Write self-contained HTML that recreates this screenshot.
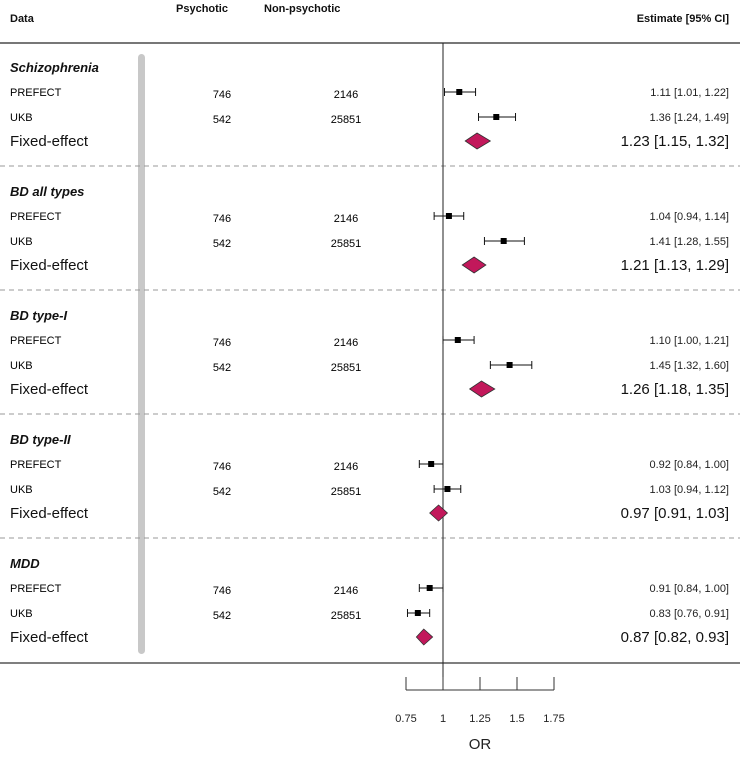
<!DOCTYPE html><html><head><style>body{margin:0;background:#fff}</style></head><body>
<svg width="740" height="752" xmlns="http://www.w3.org/2000/svg" font-family="Liberation Sans, Arial, sans-serif">
<g font-size="11" font-weight="bold" fill="#111">
<text x="10" y="22">Data</text><text x="176" y="12">Psychotic</text><text x="264" y="12">Non-psychotic</text><text x="729" y="22" text-anchor="end">Estimate [95% CI]</text></g>
<line x1="0" y1="43" x2="740" y2="43" stroke="#777" stroke-width="2"/>
<line x1="0" y1="663" x2="740" y2="663" stroke="#333" stroke-width="1.2"/>
<rect x="138" y="54" width="7" height="600" rx="3.5" fill="#c8c8c8"/>
<g stroke="#999" stroke-dasharray="5,4"><line x1="0" y1="166" x2="740" y2="166"/><line x1="0" y1="290" x2="740" y2="290"/><line x1="0" y1="414" x2="740" y2="414"/><line x1="0" y1="538" x2="740" y2="538"/></g>
<line x1="443" y1="43" x2="443" y2="690" stroke="#222"/>
<g stroke="#333"><line x1="406" y1="690" x2="554" y2="690"/>
<line x1="406" y1="677" x2="406" y2="690"/><line x1="443" y1="677" x2="443" y2="690"/><line x1="480" y1="677" x2="480" y2="690"/><line x1="517" y1="677" x2="517" y2="690"/><line x1="554" y1="677" x2="554" y2="690"/></g>
<g font-size="11" fill="#222" text-anchor="middle"><text x="406" y="722">0.75</text><text x="443" y="722">1</text><text x="480" y="722">1.25</text><text x="517" y="722">1.5</text><text x="554" y="722">1.75</text></g>
<text x="480" y="749" font-size="15" text-anchor="middle" fill="#222">OR</text>
<g id="rows"></g>
</svg>
<script>
const g=[["Schizophrenia",[1.11,1.01,1.22],[1.36,1.24,1.49],[1.23,1.15,1.32]],["BD all types",[1.04,0.94,1.14],[1.41,1.28,1.55],[1.21,1.13,1.29]],["BD type-I",[1.10,1.00,1.21],[1.45,1.32,1.60],[1.26,1.18,1.35]],["BD type-II",[0.92,0.84,1.00],[1.03,0.94,1.12],[0.97,0.91,1.03]],["MDD",[0.91,0.84,1.00],[0.83,0.76,0.91],[0.87,0.82,0.93]]];
const X=v=>443+(v-1)*148;const f=v=>v.toFixed(2);let s="";
g.forEach((d,i)=>{const b=68+i*124;
s+=`<text x="10" y="${b+4}" font-size="13" font-weight="bold" font-style="italic" fill="#111">${d[0]}</text>`;
[[d[1],"PREFECT","746","2146",b+24],[d[2],"UKB","542","25851",b+49]].forEach(r=>{const[e,n,p,q,y]=r;
s+=`<text x="10" y="${y+4}" font-size="11">${n}</text><text x="222" y="${y+6}" font-size="11" text-anchor="middle">${p}</text><text x="346" y="${y+6}" font-size="11" text-anchor="middle">${q}</text>`;
s+=`<g stroke="#111"><line x1="${X(e[1])}" y1="${y}" x2="${X(e[2])}" y2="${y}"/><line x1="${X(e[1])}" y1="${y-4}" x2="${X(e[1])}" y2="${y+4}"/><line x1="${X(e[2])}" y1="${y-4}" x2="${X(e[2])}" y2="${y+4}"/></g><rect x="${X(e[0])-3}" y="${y-3}" width="6" height="6" fill="#000"/>`;
s+=`<text x="729" y="${y+4}" font-size="11" text-anchor="end" fill="#222">${f(e[0])} [${f(e[1])}, ${f(e[2])}]</text>`;});
const e=d[3],y=b+73;
s+=`<text x="10" y="${y+5}" font-size="15" fill="#111">Fixed-effect</text><polygon points="${X(e[1])},${y} ${X(e[0])},${y-8} ${X(e[2])},${y} ${X(e[0])},${y+8}" fill="#c2185b" stroke="#333" stroke-width="0.8"/><text x="729" y="${y+5}" font-size="15" text-anchor="end" fill="#111">${f(e[0])} [${f(e[1])}, ${f(e[2])}]</text>`;});
document.getElementById("rows").innerHTML=s;
</script></body></html>
